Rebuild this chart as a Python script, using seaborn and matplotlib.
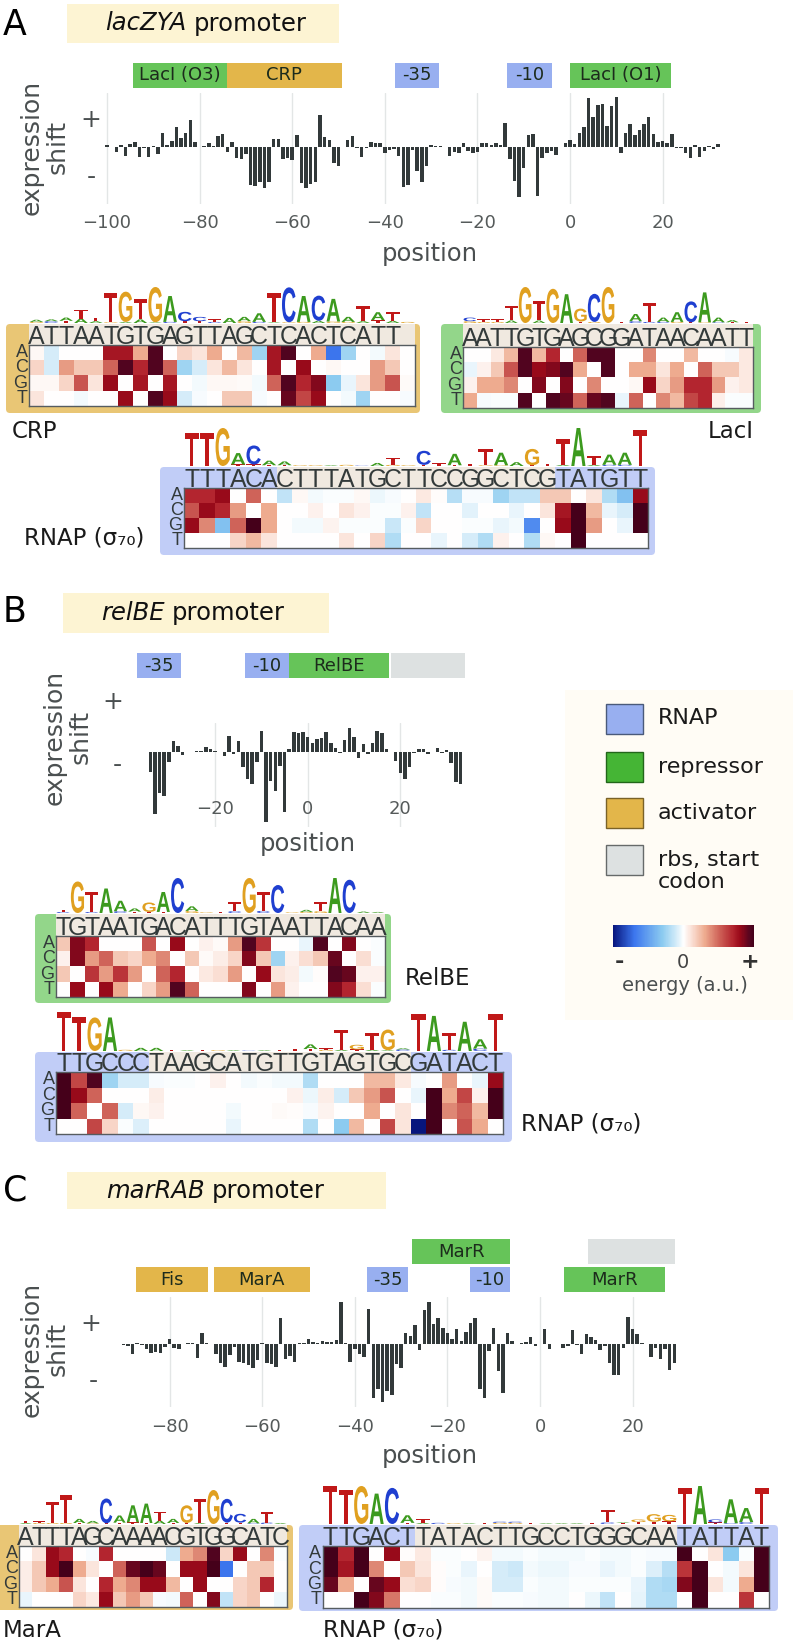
import numpy as np
import pandas as pd
import matplotlib
matplotlib.use("Agg")
import matplotlib.pyplot as plt
import seaborn as sns
from matplotlib.colors import LinearSegmentedColormap, Normalize
from matplotlib.cm import ScalarMappable
from matplotlib.font_manager import FontProperties
from matplotlib.patches import FancyBboxPatch, PathPatch, Rectangle
from matplotlib.textpath import TextPath
from matplotlib.transforms import Affine2D

# expression shift, panel A (position -100 to 32)
lac_pos = list(range(-100, 33))
lac_shift = [5, -1, -15, 4, -28, 8, 14, -30, -5, -30, 2, -22, 42, 5, 18, 60, 27, 40, 80, 14,
             0, 2, 12, 2, 33, 38, -15, 15, -35, -38, -22, -115, -118, -105, -125, -107, 22, 22, -37, -35,
             -40, 35, -110, -125, -112, -105, 95, 30, 20, -48, -57, 0, 20, 33, -5, -30, -3, 15, 12, 11,
             -18, -10, -7, -28, -120, -115, -10, -72, -107, -57, 5, 2, 1, -1, -27, -17, -18, 12, -14, -18,
             -15, 10, 12, 5, 10, 6, 70, -36, -103, -152, -65, 35, 38, -148, -35, -20, -12, -25, 0, 10,
             20, 8, 42, 60, 145, 90, 125, 127, 62, 122, 148, -20, 40, 68, 35, 50, 68, 88, 38, 15,
             17, 12, 37, -3, -5, -18, -35, 5, -30, -12, 3, -7, 8]
lac_ticks = [-100, -80, -60, -40, -20, 0, 20]

# panel B (position -35 to 34)
rel_pos = list(range(-35, 35))
rel_shift = [-1, -60, -188, -125, -132, -30, 33, 18, -10, -2, -1, 2, 1, 15, 9, 1, -1, -12, 48, -7,
             33, -45, -82, -98, -30, 63, -210, -88, -117, -42, -182, 8, 60, 57, 60, 45, 25, 37, 42, 60,
             25, 10, -4, 35, 70, 45, -18, 22, -8, 25, 63, 55, 8, 0, -27, -63, -82, -45, -5, 8,
             7, -6, 0, 12, -5, 5, -35, -92, -97, -2]
rel_ticks = [-20, 0, 20]

# panel C (position -90 to 29)
mar_pos = list(range(-90, 30))
mar_shift = [-3, -5, -30, 5, -3, -14, -27, -23, -25, -8, 15, -10, -13, 0, 3, 5, -42, 35, 3, 0,
             -30, -55, -67, -32, -8, -53, -55, -62, -72, -47, 4, -55, -58, -67, 78, -45, -35, -52, 5, 5,
             17, 7, 3, 9, 6, 6, 13, 128, 3, -52, -15, -30, -37, 107, -160, -135, -172, -140, -152, -60,
             -70, 33, 25, 57, -18, 103, 127, 60, 80, 50, 33, 15, 45, 9, 36, 63, 80, -133, -160, -20,
             50, -80, -147, 33, 9, 0, 5, 7, 22, -5, 0, 46, -15, 2, 1, -12, -6, 44, -2, -30,
             32, 22, 13, -17, -5, -57, -93, -93, -12, 83, 45, 32, 3, 2, -37, -10, -43, -14, -77, -55]
mar_ticks = [-80, -60, -40, -20, 0, 20]

# energy matrices and logos (rows A C G T, logo stacks listed bottom to top)
crp_seq = "ATTAATGTGAGTTAGCTCACTCATT "
crp_A = [.3, -1, 0, 0, 0, 7.5, 7.5, 3, 9.5, 0, 1.5, 1, 3, 0, 2.5, -2.5, 7.5, 9.5, 0, 3, -7, -2.5, 0, -.3, 1, 0]
crp_C = [1.5, -1, 3.5, 2, 2, 5, 9.5, 7, 9.5, 5, -2.5, -1, 1, 2.5, 1, 0, 7.5, 0, 8, 0, .3, 0, 0, 3.5, 2, 0]
crp_G = [.3, .3, 1.5, 5.5, 1, 8, 0, 7.5, 0, 7.5, 0, -.3, .3, .3, .2, -.3, 5, 9.5, 7, 8.5, -3, -.5, 1, 3.5, 5.5, .2]
crp_T = [1, 0, 0, -.3, 0, 0, 8, 0, 9.5, 8, -1, -.2, 0, 2, 2, -.2, 0, 9, 6, 8, 0, -.3, -2.5, 0, 0, -.2]
crp_logo = ["G.3 A.6", "C.5 A.5", "T.6 A.9", "A1.2 T2.4", "A.5 T1", "G.2 T8", "A.3 G8.4", "A1 T5.6", "A.2 G9.8", "C.3 A7.2",
            "T.5 C2.6", "T.5 C1.2", "C.3 T.8", "A1.4", "G.5 A1.2", "C.3 A2.4", "A.2 T8", "G.2 C9.7", "G.3 A7.2", "A.6 C7",
            "G.4 A6.3", "G.3 A1.4", "A.5 T4.2", "T.8 A2.2", "A.6 T2.4", "G.3"]

lacI_seq = "AATTGTGAGCGGATAACAATT"
lacI_A = [0, 0, .8, 2.5, 9.5, 2.5, 7, 0, 5, 9.5, 9.5, 0, 0, 4, 0, 0, 2.5, 0, 0, -.2, .8]
lacI_C = [-.5, .5, 2, 5.5, 9.5, 8, 8.5, 9.5, 3, 0, 9.5, 0, 3, 3, 1, 3, 0, 5, 2, 2, .8]
lacI_G = [.5, 3, 3, 4, 0, 8.5, 0, 8.5, 0, 4, 0, 0, .3, 8, 1.5, 3.5, 7, 7, 3.5, .5, .8]
lacI_T = [3, -.2, -.1, -.1, 9.5, 0, 9.5, 9, 5, 9, 9.5, -.5, 5, 0, 4, 2.5, 6, 7, .6, -.1, -.1]
lacI_logo = ["G.5 C1", "G.3 T.8", "G.3 T.8", "A.7 T4", "G10", "A.7 T5.3", "G9.5", "A8", "T.4 G3.6", "G.3 C7.8",
             "G10", "T.2", "C.5 A2", "C.3 T5.2", "C.3 A1.2", "G.3 A2.7", "T.2 C5.8", "G.2 A8.3", "C.2 A1.3", "T.2 A.6", "T.3"]

lacr_seq = "TTTACACTTTATGCTTCCGGCTCGTATGTT"
lacr_A = [7, 7, 8, 0, 5, 0, -1.5, .3, -.3, -.1, -.1, .3, -.4, -.2, 0, .8, .1, -1.8, -.2, -.2, -2.5, -1.5, -1.5, 2, 2, 0, 1, -2, -3.5, 8]
lacr_C = [5.5, 8, 7, 3.5, 0, 3, 0, 0, .5, 0, 1, .5, -.1, -.1, .5, -1.5, 0, 0, -.7, 0, 0, -.5, 0, 1, 7.5, 10, 2.5, -.5, -1, 10]
lacr_G = [8, 4, -3.5, 5, 10, 3, 0, -.3, -.3, .4, -.1, -.1, -.1, -1.3, -.1, 1.5, 0, 0, -.1, -.1, -.5, -.3, -6, 0, 8, 10, 3.5, 0, -.5, 10]
lacr_T = [0, 0, 0, 1.5, 2.5, 1, 0, 0, 0, 0, 1, 0, 1.5, -2, 0, 0, -.5, 0, -1, -2, .5, 0, -2, .3, 0, 10, 0, 0, 0, 0]
lacr_logo = ["T8.6", "T8.6", "G10", "T.4 A3", "T.4 C5", "T.2 A1.2", "T.2 A1", "G.2", "G.2", "A.2", "G.3", "C.1",
             "A.8", "G.3 T1.8", "G.2", "T.3 C3.7", "T.7", "T.2 A3", "T.6", "G.2 T4.3", "G.2 A3.3", "A1", "T.2 G4.3", "T.5",
             "A.3 T6.7", "A10", "A.3 T2.2", "C.3 A2.7", "C.3 A3.2", "T9.5"]

relB_seq = "TGTAATGACATTTGTAATTACAA"
relB_A = [2, 8.5, 7, 0, 0, 0, 5.5, 0, 8, 0, .5, .2, 3.5, 9.5, 6.5, 0, 0, -.5, 9.5, 0, 8.5, 0, -.1]
relB_C = [.5, 8.5, 3.5, 5, 2, 1.5, 3, 4, 0, 2, .2, .7, 1.5, 8.5, 2, -2.5, .5, 1.2, 2, 9, 0, 1.2, -.1]
relB_G = [2, 0, 6.5, 3.5, 6.5, 3.5, 0, 5, 7, 0, .8, 1.2, 3.5, 0, 8, 1, .7, -.3, .1, 9.5, 9, .5, .5]
relB_T = [0, 8, 0, 8, 3, 0, 1.5, 3.5, 9.5, 5, 0, 0, 0, 8.5, 0, 3.5, .5, 0, 0, 8.5, 7, 1.2, -.1]
relB_logo = ["C.3 T.6", "G9", "C.3 T5.7", "A7", "C.5 A3", "T.4 A.9", "T.3 G2.7", "T.3 A5.7", "C10", "G.6 A1.3",
             "G.2", "T.3", "C.5 T2.5", "G10", "C.6 T5.4", "C8", "G.2", "G.3 A.6", "G.5 T2.5", "A10", "C9.5", "A.4", "A.3"]

relr_seq = "TTGCCCTAAGCATGTTGTAGTGCGATACT"
relr_A = [10, 6, 9.5, -2.5, -1, -1, -.2, -.1, -.1, 0, .5, 0, -.3, -.1, -.3, -.3, -2, 0, 0, 0, 2.5, 2.5, .8, -.2, 0, 3.5, 0, -.5, 8]
relr_C = [10, 8, 5, 0, 0, 0, .7, 0, 0, 0, 0, 0, 0, 0, 0, .5, -.4, .7, -1, 2, 3.5, 5.5, 0, -.5, 10, 3, 6, .5, 10]
relr_G = [10, 5, 0, 5, -1, .3, .5, 0, 0, 0, 0, -.3, 0, 0, .2, .1, -.2, .4, 0, 0, 3, 0, 1, 0, 10, 4, 5, 2.5, 10]
relr_T = [0, 0, 6, 1.5, -.1, -.8, 0, 0, 0, 0, 0, -.5, 0, 0, 0, 0, -2, 0, -3, 2.5, 0, 6, 1, -10, 10, 0, 5.5, 3, 0]
relr_logo = ["T10", "T8.6", "G8.6", "A8.6", "G.3", "A.8", "A.8", "T.3", "A.2", "T.2", "G.2", "A.2", "C.1", "A.2", "T.3",
             "T.5", "T.5 A1.2", "G.3 T.4", "A.3 T5.2", "T.4 G1.2", "A.3 T4.2", "A.2 G5.3", "C.4 A.3", "T9.5", "A9",
             "C.3 T4.2", "A7.5", "C.6 A2.4", "T9.5"]

marA_seq = "ATTTAGCAAAACGTGGCATC"
marA_A = [0, 1, 8, 7, 0, -.2, 7, 0, 0, 0, 0, -1.2, 3, 4, 9.5, 1.5, 8, 0, 4, -.1]
marA_C = [.7, 2, 8, 10, 3, 1, 0, 5, 9, 10, 9, 0, 8, 8, 10, -7, 0, 2, 2, 0]
marA_G = [.7, 2, 3, 5.5, 1, 0, 7, 3, 4, 8, 8, 2.5, 0, 8, 0, 0, 1.5, 2, 7, 0]
marA_T = [-.5, 0, 0, 0, 1.5, .8, 8, 2, 3.5, 2, -.2, -.3, 5, 0, 8.5, -1.5, 1.5, 2, 0, -.4]
marA_logo = ["A.3 T.7", "G.3 T.5", "G.3 T6.2", "G.3 T8.2", "T.3 A1.2", "G.2 A.7", "T.2 C7.3", "T.4 A2.1", "T.5 A5", "T.3 A5.7",
             "A1 T2.6", "T.3 A1.2", "T.3 G5.2", "A.3 T7.2", "G10", "T.4 C7", "T.4 C2.6", "C.2 A1.3", "C.4 T3.1", "A.3"]

marr_seq = "TTGACTTATACTTGCCTGGGCAATATTAT"
marr_A = [10, 7, 10, 0, 8, .1, .8, -.1, -.1, 0, .4, -.3, -.3, -.1, -.3, -.3, -.3, -.1, -.3, -.3, -.1, -.2, -.2, 10, 0, 1, -3, -.1, 10]
marr_C = [10, 7.5, 10, 4, 0, 2, 1, .1, -.1, -.5, 0, -1, -1.2, -.3, -.4, -.4, -.2, -.2, -.5, -.3, -.1, -.8, -1.8, 6.5, 10, 0, -.3, 1, 10]
marr_G = [9, 3, 0, 9, 8, 1.2, 1.5, .1, -.2, -.3, .2, -1, -1, -.1, -.3, -.3, -.1, -.1, -.1, -.1, -.5, -2, -2.2, 8.5, 10, 1, -.3, 3, 10]
marr_T = [0, 0, 10, 8.5, 4.5, 0, 0, -.1, -.1, -.3, .2, -.1, -.1, -.2, -.3, -.3, 0, -.4, -1.5, 0, -.6, -2, -2, 0, 10, 0, 0, 6.5, 0]
marr_logo = ["T10", "T9", "G10", "A8", "C9.5", "T.3 A2", "A.3 T1", "C.3", "G.2", "A.2", "T.2", "G.3 C.3", "G.3 C.3", "T.2", "A.2",
             "A.2", "A.2", "T.2", "C.4 T3.2", "T.3 A.2", "T.5 G.7", "T.6 G2", "T.7 G1.7", "T9.5", "A10", "T.4 C.8", "C.2 A6.3",
             "C.5 A3.7", "T9.5"]

legend_names = ["RNAP", "repressor", "activator", "rbs, start\ncodon"]

C_RNAP = "#98aff0"
C_REP = "#66c459"
C_ACT = "#e3b64a"
C_RBS = "#dde1e1"
C_BAR = "#32393a"
C_TXT = "#4a4f50"
LOGO_COLORS = {"A": "#3c9a1e", "C": "#1f3fd0", "G": "#e0a020", "T": "#c01818"}

sns.set_theme(style="white")
plt.rcParams["font.family"] = ["DejaVu Sans"]

W, H = 796, 1644
fig = plt.figure(figsize=(W / 100, H / 100), dpi=100)

energy = LinearSegmentedColormap.from_list("energy", [
    (0.0, "#07157d"), (0.15, "#3c76ee"), (0.35, "#8ccbf0"), (0.45, "#d4ecf9"), (0.5, "#ffffff"),
    (0.55, "#fbe4db"), (0.65, "#eeac90"), (0.75, "#d0655a"), (0.85, "#b3262f"), (0.9, "#9a0a1a"),
    (0.975, "#52041f"), (1.0, "#45001a")])

letter_font = FontProperties(family="Liberation Sans", weight="bold")


def px_axes(left, top, right, bottom, **kw):
    return fig.add_axes([left / W, 1 - bottom / H, (right - left) / W, (bottom - top) / H], **kw)


# background layer in pixel coordinates, for boxes and loose labels
bg = px_axes(0, 0, W, H)
bg.set_xlim(0, W)
bg.set_ylim(H, 0)
bg.axis("off")


def box(x0, y0, x1, y1, color, text=None):
    bg.add_patch(Rectangle((x0, y0), x1 - x0, y1 - y0, color=color, lw=0))
    if text:
        bg.text((x0 + x1) / 2, (y0 + y1) / 2, text, ha="center", va="center", fontsize=13, color="#1c2b1c")


def label(x, y, s, size=16.5, color="#1a1a1a", ha="left", **kw):
    return bg.text(x, y, s, fontsize=size, color=color, ha=ha, va="center", **kw)


def title(x0, x1, y0, y1, name, text_x, letter, letter_y):
    bg.add_patch(Rectangle((x0, y0), x1 - x0, y1 - y0, color="#fdf4d3", lw=0))
    t = label(text_x, (y0 + y1) / 2, name, size=17.5, style="italic", color="#111111")
    end = t.get_window_extent(fig.canvas.get_renderer()).x1
    label(end + 7, (y0 + y1) / 2, "promoter", size=17.5, color="#111111")
    label(3, letter_y, letter, size=25, color="#000000")


def shift_bars(pos, shift, ticks, zero_x, xlim, top, bottom, ylim, pad, ylabel_y, pos_x, pos_y, plus, minus, yl_x):
    left = zero_x + xlim[0] * 4.63
    right = zero_x + xlim[1] * 4.63
    ax = px_axes(left, top, right, bottom)
    ax.patch.set_visible(False)
    df = pd.DataFrame({"position": pos, "shift": shift})
    sns.barplot(data=df, x="position", y="shift", native_scale=True, color=C_BAR, saturation=1,
                width=0.75, errorbar=None, linewidth=0, ax=ax)
    ax.set_xlim(*xlim)
    ax.set_ylim(*ylim)
    ax.set_xticks(ticks)
    ax.set_xticklabels([str(t).replace("-", "\u2212") for t in ticks])
    ax.set_yticks([])
    ax.set_xlabel("")
    ax.set_ylabel("")
    ax.tick_params(axis="x", length=0, pad=pad, labelsize=13, labelcolor="#555a5a")
    ax.xaxis.grid(True, color="#e3e6e6", lw=1)
    ax.set_axisbelow(True)
    sns.despine(ax=ax, left=True, bottom=True)
    label(pos_x, pos_y, "position", size=17.5, color=C_TXT, ha="center")
    label(plus[0], plus[1], "+", size=18, color=C_TXT, ha="center")
    label(minus[0], minus[1], "-", size=18, color=C_TXT, ha="center")
    bg.text(yl_x, ylabel_y, "expression\nshift", rotation=90, fontsize=18, color=C_TXT, ha="center", va="center",
            multialignment="center", linespacing=1.1)


def motif(seq, rows, logo, heat, panel, color, beige, logo_top):
    left, top, right, bottom = heat
    n = len(seq)
    step = (right - left) / n
    # coloured panel and sequence strip
    bg.add_patch(FancyBboxPatch((panel[0] + 4, panel[1] + 4), panel[2] - panel[0] - 8, panel[3] - panel[1] - 8,
                                boxstyle="round,pad=4,rounding_size=4", color=color, lw=0))
    bg.add_patch(Rectangle((left + beige[0] * step, panel[1]), (beige[1] - beige[0]) * step, top - panel[1],
                           color="#f0e9e0", lw=0))
    ax = px_axes(left, top, right, bottom)
    df = pd.DataFrame(rows, index=list("ACGT"), columns=range(n))
    sns.heatmap(df, cmap=energy, vmin=-10, vmax=10, cbar=False, ax=ax,
                xticklabels=list(seq), yticklabels=list("ACGT"))
    ax.xaxis.tick_top()
    ax.tick_params(axis="x", length=0, pad=-3, labelsize=18, labelcolor="#333a3a", rotation=0)
    ax.tick_params(axis="y", length=0, pad=1, labelsize=13, labelcolor="#333a3a", rotation=0)
    for t in ax.get_xticklabels():
        t.set_fontfamily("Liberation Sans")
    for t in ax.get_yticklabels():
        t.set_fontfamily("Liberation Sans")
    for sp in ax.spines.values():
        sp.set_visible(True)
        sp.set_color("#565c60")
        sp.set_linewidth(1)
    # sequence logo, stretched letters stacked on the strip
    lg = px_axes(left, logo_top, right, panel[1] - 1)
    lg.set_xlim(0, n)
    lg.set_ylim(0, 10)
    lg.axis("off")
    for i, stack in enumerate(logo):
        y = 0
        for part in stack.split():
            ch, h = part[0], float(part[1:])
            tp = TextPath((0, 0), ch, size=1, prop=letter_font)
            bb = tp.get_extents()
            tf = (Affine2D().translate(-bb.x0, -bb.y0).scale(0.92 / bb.width, h / bb.height)
                  .translate(i + 0.04, y))
            lg.add_patch(PathPatch(tf.transform_path(tp), color=LOGO_COLORS[ch], lw=0, clip_on=False))
            y += h


# panel A
title(67, 339, 4, 43, "lacZYA", 105, "A", 25)
box(133, 63, 226.5, 88, C_REP, "LacI (O3)")
box(226.5, 63, 342, 88, C_ACT, "CRP")
box(395, 63, 439, 88, C_RNAP, "-35")
box(506.5, 63, 552, 88, C_RNAP, "-10")
box(570, 63, 671, 88, C_REP, "LacI (O1)")
shift_bars(lac_pos, lac_shift, lac_ticks, 570, (-102, 34), 92.7, 204, (-172, 162), 7, 147, 430, 254,
           (91, 120), (91, 177), 45)
motif(crp_seq, [crp_A, crp_C, crp_G, crp_T], crp_logo, (29, 345, 415, 406), (6, 324, 420, 413), "#e9c675", (0, 26), 287)
motif(lacI_seq, [lacI_A, lacI_C, lacI_G, lacI_T], lacI_logo, (463, 347, 753, 408), (441, 324, 761, 413), "#93d68a", (0, 21), 287)
motif(lacr_seq, [lacr_A, lacr_C, lacr_G, lacr_T], lacr_logo, (184, 488, 648, 548), (160, 467, 655, 555), "#c1cdf7", (6, 24), 428)
label(12, 431, "CRP")
label(708, 431, "LacI")
label(24, 538, "RNAP (\u03c3\u2087\u2080)")

# panel B
title(63, 329, 593, 633, "relBE", 101, "B", 612)
box(137.3, 653, 181, 678, C_RNAP, "-35")
box(245, 653, 289, 678, C_RNAP, "-10")
box(289, 653, 389.3, 678, C_REP, "RelBE")
box(391.3, 653, 465, 678, C_RBS)
shift_bars(rel_pos, rel_shift, rel_ticks, 307.7, (-37, 36), 723.3, 826.7, (-225, 85), -19, 737, 307.7, 844,
           (113, 702), (117, 765), 68)
motif(relB_seq, [relB_A, relB_C, relB_G, relB_T], relB_logo, (56, 936, 385, 997), (35, 914, 391, 1003), "#93d68a", (0, 23), 878)
motif(relr_seq, [relr_A, relr_C, relr_G, relr_T], relr_logo, (56, 1072, 503.3, 1134), (35, 1052, 512, 1142), "#c1cdf7", (6, 23), 1012)
label(405, 978, "RelBE")
label(521, 1124, "RNAP (\u03c3\u2087\u2080)")

# panel C
title(67, 386, 1172, 1209, "marRAB", 106, "C", 1190)
box(136.4, 1267, 207.6, 1292, C_ACT, "Fis")
box(213.5, 1267, 309.7, 1292, C_ACT, "MarA")
box(367.4, 1267, 407.9, 1292, C_RNAP, "-35")
box(412.3, 1239, 510.4, 1264, C_REP, "MarR")
box(469.9, 1267, 510.4, 1292, C_RNAP, "-10")
box(588, 1239, 675, 1264, C_RBS)
box(564, 1267, 665, 1292, C_REP, "MarR")
shift_bars(mar_pos, mar_shift, mar_ticks, 540, (-92, 31), 1296.7, 1407.3, (-189, 143), 8, 1349, 430, 1456,
           (91, 1324), (93, 1381), 45)
motif(marA_seq, [marA_A, marA_C, marA_G, marA_T], marA_logo, (19, 1546, 287, 1607), (-6, 1525, 293, 1610), "#e9c675", (0, 20), 1490)
motif(marr_seq, [marr_A, marr_C, marr_G, marr_T], marr_logo, (322.7, 1546, 769.3, 1607.7), (299, 1525, 778, 1611), "#c1cdf7", (6, 23), 1486)
label(3, 1630, "MarA")
label(323, 1630, "RNAP (\u03c3\u2087\u2080)")

# legend panel
bg.add_patch(Rectangle((565, 690), 228, 330, color="#fffcf5", lw=0))
swatch_tops = [704, 752, 798, 845]
swatch_colors = [C_RNAP, "#45b535", C_ACT, C_RBS]
swatch_edges = ["#4a5a7a", "#22661a", "#7a6228", "#666a6a"]
for top, fc, ec in zip(swatch_tops, swatch_colors, swatch_edges):
    bg.add_patch(Rectangle((606, top), 37, 30, facecolor=fc, edgecolor=ec, lw=1))
label(658, 718, legend_names[0], size=16)
label(658, 767, legend_names[1], size=16)
label(658, 813, legend_names[2], size=16)
label(658, 871, legend_names[3], size=16, linespacing=1.15)

cax = px_axes(613, 925, 754, 947)
cb = fig.colorbar(ScalarMappable(norm=Normalize(-10, 10), cmap=energy), cax=cax, orientation="horizontal")
cb.set_ticks([])
cb.outline.set_visible(False)
label(619, 962, "-", size=16, color="#333333", ha="center", fontweight="bold")
label(683, 962, "0", size=14, color="#444444", ha="center")
label(750, 962, "+", size=16, color="#333333", ha="center", fontweight="bold")
label(685, 985, "energy (a.u.)", size=14, color=C_TXT, ha="center")

fig.savefig("out.png", dpi=100)
